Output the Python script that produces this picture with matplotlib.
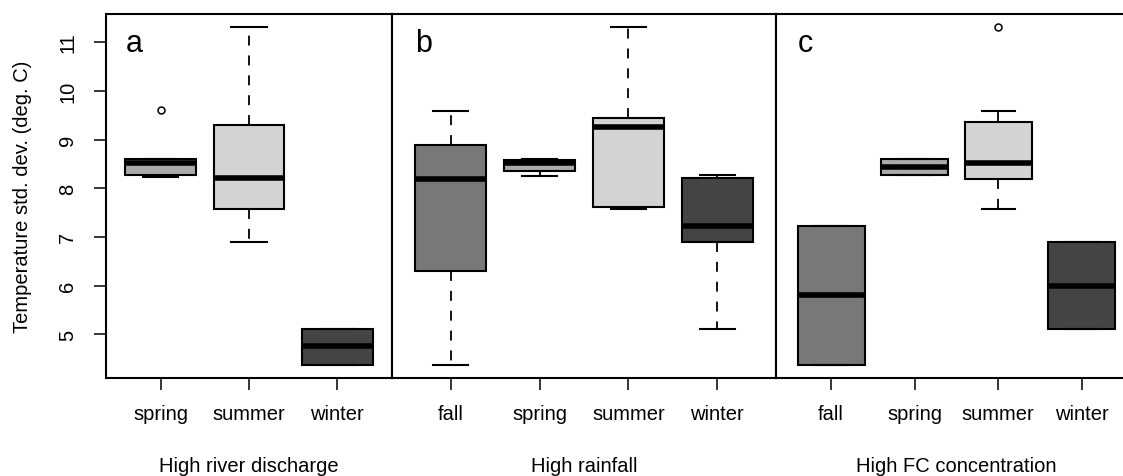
import matplotlib.pyplot as plt
import matplotlib as mpl

mpl.rcParams['font.family'] = ['Liberation Sans', 'DejaVu Sans']
mpl.rcParams['font.size'] = 14.5

# season fills shared by all panels
colors = {'fall': '#787878', 'spring': '#aaaaaa', 'summer': '#d3d3d3', 'winter': '#444444'}

# panel a: high river discharge
a_seasons = ['spring', 'summer', 'winter']
a_whislo = [8.24, 6.90, 4.38]
a_q1 = [8.28, 7.57, 4.38]
a_med = [8.52, 8.20, 4.75]
a_q3 = [8.60, 9.29, 5.11]
a_whishi = [8.60, 11.30, 5.11]
a_fliers = [[9.60], [], []]

# panel b: high rainfall
b_seasons = ['fall', 'spring', 'summer', 'winter']
b_whislo = [4.38, 8.25, 7.57, 5.11]
b_q1 = [6.29, 8.36, 7.61, 6.90]
b_med = [8.19, 8.52, 9.25, 7.23]
b_q3 = [8.89, 8.58, 9.44, 8.20]
b_whishi = [9.58, 8.60, 11.30, 8.28]
b_fliers = [[], [], [], []]

# panel c: high FC concentration
c_seasons = ['fall', 'spring', 'summer', 'winter']
c_whislo = [4.38, 8.28, 7.57, 5.11]
c_q1 = [4.38, 8.28, 8.19, 5.11]
c_med = [5.81, 8.43, 8.52, 6.00]
c_q3 = [7.23, 8.59, 9.36, 6.90]
c_whishi = [7.23, 8.59, 9.59, 6.90]
c_fliers = [[], [], [11.30], []]

panels = [
    ('a', 'High river discharge', a_seasons, a_whislo, a_q1, a_med, a_q3, a_whishi, a_fliers),
    ('b', 'High rainfall', b_seasons, b_whislo, b_q1, b_med, b_q3, b_whishi, b_fliers),
    ('c', 'High FC concentration', c_seasons, c_whislo, c_q1, c_med, c_q3, c_whishi, c_fliers),
]

W, H = 1123, 477
fig = plt.figure(figsize=(W / 100, H / 100), dpi=100)

# panel extents in pixels (left, right); last one runs off the page
px = [(106, 392), (392, 776), (776, 1137)]
top, bottom = 15, 379

allv = a_whislo + b_whislo + c_whislo + a_whishi + b_whishi + c_whishi + sum(a_fliers + b_fliers + c_fliers, [])
lo, hi = min(allv), max(allv)
pad = 0.04 * (hi - lo)

for i, (letter, title, seasons, wl, q1, med, q3, wh, fl) in enumerate(panels):
    l, r = px[i]
    ax = fig.add_axes([l / W, (H - bottom) / H, (r - l) / W, (bottom - top) / H])
    stats = []
    for j in range(len(seasons)):
        stats.append(dict(whislo=wl[j], q1=q1[j], med=med[j], q3=q3[j], whishi=wh[j], fliers=fl[j]))
    n = len(seasons)
    pos = list(range(1, n + 1))
    bp = ax.bxp(stats, positions=pos, widths=0.8, capwidths=0.4, patch_artist=True,
                boxprops=dict(edgecolor='black', linewidth=1.5),
                medianprops=dict(color='black', linewidth=4, solid_capstyle='butt'),
                whiskerprops=dict(color='black', linewidth=1.3, linestyle=(0, (5.5, 5.5))),
                capprops=dict(color='black', linewidth=1.5),
                flierprops=dict(marker='o', markersize=5, markerfacecolor='none',
                                markeredgecolor='black', markeredgewidth=1.1))
    for patch, s in zip(bp['boxes'], seasons):
        patch.set_facecolor(colors[s])

    ax.set_xlim(0.5 - 0.04 * n, n + 0.5 + 0.04 * n)
    ax.set_ylim(lo - pad, hi + pad)
    ax.set_xticks(pos)
    ax.set_xticklabels(seasons)
    ax.tick_params(axis='x', length=8.6, width=1.1, pad=10)
    if i == 0:
        ax.set_yticks([5, 6, 7, 8, 9, 10, 11])
        ax.tick_params(axis='y', length=8.6, width=1.1, pad=12, labelrotation=90)
        for t in ax.get_yticklabels():
            t.set_va('center')
    else:
        ax.set_yticks([])
    for sp in ax.spines.values():
        sp.set_linewidth(1.5)

    ax.text(0.6, 10.82, letter, fontsize=22, ha='left', va='baseline')
    fig.text((l + r) / 2 / W, 5 / H, title, ha='center', va='baseline')

fig.text(23 / W, (H - (top + bottom) / 2) / H, 'Temperature std. dev. (deg. C)',
         rotation=90, ha='center', va='center')

fig.savefig('out.png', dpi=100)
